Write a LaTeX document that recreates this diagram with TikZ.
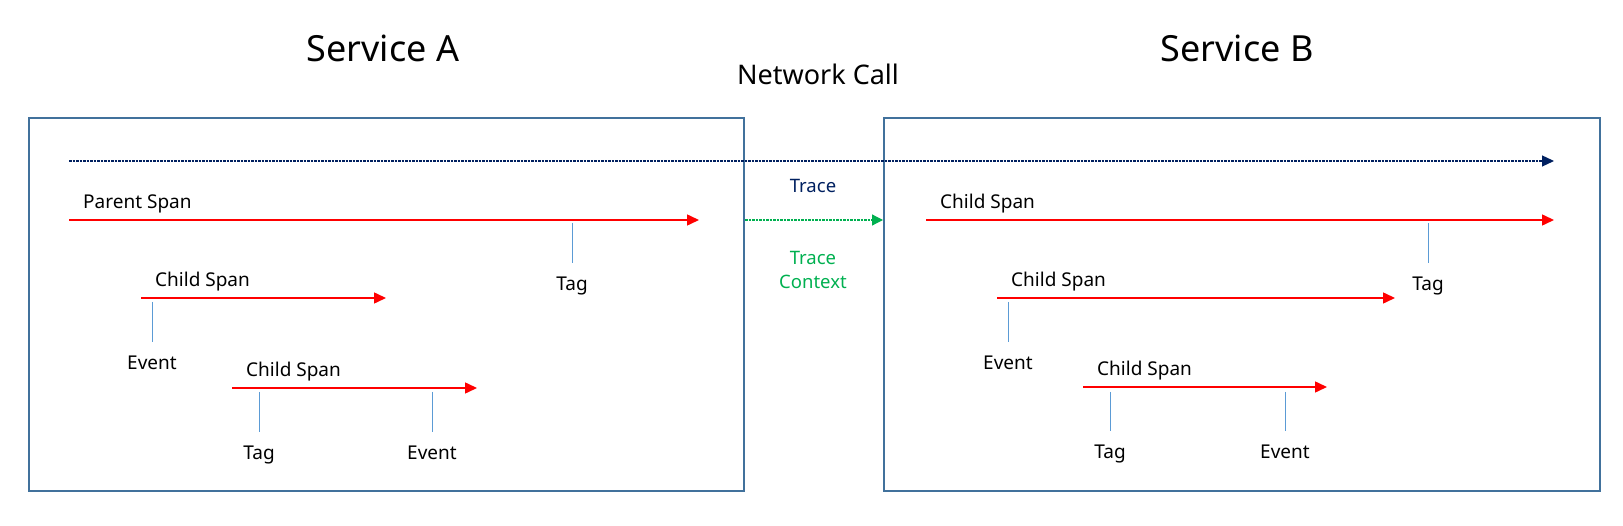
\documentclass[tikz,border=0pt]{standalone}
\usepackage{fontspec}
\setmainfont{Noto Sans}
\usetikzlibrary{arrows.meta}
\usetikzlibrary{positioning}
\definecolor{boxcol}{HTML}{41719C}
\definecolor{tracecol}{HTML}{002060}
\definecolor{ctxcol}{HTML}{00B050}
\definecolor{markcol}{HTML}{5B9BD5}
\tikzset{
  service/.style={draw=boxcol,line width=2.2pt,inner sep=0pt,anchor=north west},
  spanarrow/.style={red,line width=1.5pt,-{Triangle[length=12pt,width=11pt]}},
  tracearrow/.style={tracecol,line width=1.2pt,dash pattern=on 2.5pt off 1pt,-{Triangle[length=12pt,width=11pt]}},
  ctxarrow/.style={ctxcol,line width=1.2pt,dash pattern=on 2.5pt off 1pt,-{Triangle[length=11pt,width=11pt]}},
  markline/.style={markcol,line width=1pt},
  lbl/.style={inner sep=0pt,font=\fontsize{19}{22}\selectfont,text height=14pt,text depth=5pt},
  spanlbl/.style={lbl,above right=6.5pt and 14pt of #1},
  marklbl/.style={lbl,below=13.5pt of #1},
  title/.style={inner sep=0pt,font=\fontsize{36}{43}\selectfont},
}

\begin{document}
\begin{tikzpicture}[x=1pt,y=-1pt]
\useasboundingbox (0,0) rectangle (1623,526);

% services
\node[service,minimum width=715pt,minimum height=373pt] (svcA) at (28,117) {};
\node[service,minimum width=716pt,minimum height=373pt] (svcB) at (883,117) {};
\node[title] (titleA) at (383,48) {Service A};
\node[title] (titleB) at (1237,48) {Service B};
\node[inner sep=0pt,font=\fontsize{27}{32}\selectfont] (netcall) at (818,74) {Network Call};

% trace
\coordinate (tr-s) at (69,161);
\coordinate (tr-e) at (1554,161);
\draw[tracearrow] (tr-s) -- (tr-e);
\node[inner sep=0pt,text=tracecol,font=\fontsize{18.5}{24}\selectfont] (tracelbl) at (813,186) {Trace};

% service A
\coordinate (ps-s) at (69,220);
\coordinate (ps-e) at (699,220);
\draw[spanarrow] (ps-s) -- (ps-e);
\node[spanlbl=ps-s] (pslbl) {Parent Span};
\coordinate (csa1-s) at (141,298);
\coordinate (csa1-e) at (386,298);
\draw[spanarrow] (csa1-s) -- (csa1-e);
\node[spanlbl=csa1-s] (csa1lbl) {Child Span};
\coordinate (csa2-s) at (232,388);
\coordinate (csa2-e) at (477,388);
\draw[spanarrow] (csa2-s) -- (csa2-e);
\node[spanlbl=csa2-s] (csa2lbl) {Child Span};

\coordinate (taga1-t) at (572,223);
\coordinate (taga1-b) at (572,263);
\draw[markline] (taga1-t) -- (taga1-b);
\node[marklbl=taga1-b] (taga1) {Tag};
\coordinate (eva1-t) at (152,302);
\coordinate (eva1-b) at (152,342);
\draw[markline] (eva1-t) -- (eva1-b);
\node[marklbl=eva1-b] (eva1) {Event};
\coordinate (taga2-t) at (259,392);
\coordinate (taga2-b) at (259,432);
\draw[markline] (taga2-t) -- (taga2-b);
\node[marklbl=taga2-b] (taga2) {Tag};
\coordinate (eva2-t) at (432,392);
\coordinate (eva2-b) at (432,432);
\draw[markline] (eva2-t) -- (eva2-b);
\node[marklbl=eva2-b] (eva2) {Event};

% trace context
\draw[ctxarrow] (svcA.east |- ps-e) -- (svcB.west |- ps-e);
\node[inner sep=0pt,align=center,text=ctxcol,font=\fontsize{18.5}{24}\selectfont] (ctxlbl) at (813,270) {Trace\\Context};

% service B
\coordinate (csb1-s) at (926,220);
\coordinate (csb1-e) at (1554,220);
\draw[spanarrow] (csb1-s) -- (csb1-e);
\node[spanlbl=csb1-s] (csb1lbl) {Child Span};
\coordinate (csb2-s) at (997,298);
\coordinate (csb2-e) at (1395,298);
\draw[spanarrow] (csb2-s) -- (csb2-e);
\node[spanlbl=csb2-s] (csb2lbl) {Child Span};
\coordinate (csb3-s) at (1083,387);
\coordinate (csb3-e) at (1327,387);
\draw[spanarrow] (csb3-s) -- (csb3-e);
\node[spanlbl=csb3-s] (csb3lbl) {Child Span};

\coordinate (tagb1-t) at (1428,223);
\coordinate (tagb1-b) at (1428,263);
\draw[markline] (tagb1-t) -- (tagb1-b);
\node[marklbl=tagb1-b] (tagb1) {Tag};
\coordinate (evb2-t) at (1008,302);
\coordinate (evb2-b) at (1008,342);
\draw[markline] (evb2-t) -- (evb2-b);
\node[marklbl=evb2-b] (evb2) {Event};
\coordinate (tagb3-t) at (1110,392);
\coordinate (tagb3-b) at (1110,431);
\draw[markline] (tagb3-t) -- (tagb3-b);
\node[marklbl=tagb3-b] (tagb3) {Tag};
\coordinate (evb3-t) at (1285,392);
\coordinate (evb3-b) at (1285,431);
\draw[markline] (evb3-t) -- (evb3-b);
\node[marklbl=evb3-b] (evb3) {Event};
\end{tikzpicture}
\end{document}
